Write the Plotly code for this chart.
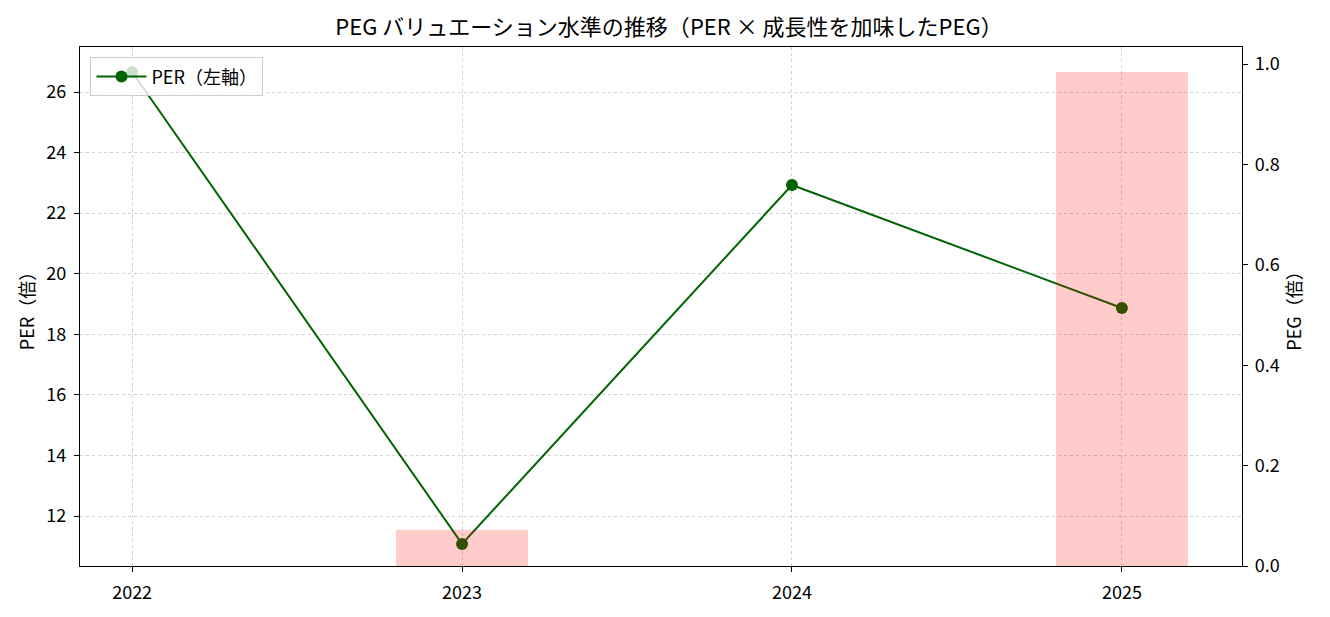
import plotly.graph_objects as go

years = [2022, 2023, 2024, 2025]
per_values = [26.66, 11.08, 22.93, 18.87]
peg_values = [None, 0.072, None, 0.984]
per_ticks = [12, 14, 16, 18, 20, 22, 24, 26]
peg_ticks = [0.0, 0.2, 0.4, 0.6, 0.8, 1.0]

FONT = "Noto Sans CJK JP"

fig = go.Figure()
fig.add_trace(go.Scatter(
    x=years, y=per_values, mode="lines+markers", name="PER（左軸）",
    line=dict(color="#006400", width=2), marker=dict(size=12, color="#006400"),
    yaxis="y"))
fig.add_trace(go.Bar(
    x=years, y=peg_values, name="PEG", width=0.4,
    marker=dict(color="rgba(255,0,0,0.2)", line=dict(width=0)),
    showlegend=False, yaxis="y2"))

fig.update_layout(
    width=1322, height=609,
    margin=dict(l=72, r=88, t=39, b=51),
    paper_bgcolor="white", plot_bgcolor="white",
    font=dict(family=FONT, size=18, color="black"),
    title=dict(text="PEG バリュエーション水準の推移（PER × 成長性を加味したPEG）",
               x=0.5, xanchor="center", y=0.968, yanchor="middle",
               font=dict(size=22, family=FONT)),
    xaxis=dict(range=[2021.842, 2025.364], tickvals=years, ticktext=[str(y) for y in years],
               showgrid=True, gridcolor="#d0d0d0", griddash="dot", gridwidth=1,
               showline=True, linecolor="black", linewidth=1.3, mirror=True,
               ticks="outside", ticklen=5, tickcolor="black", zeroline=False,
               ticklabelstandoff=5, tickfont=dict(size=18, family=FONT)),
    yaxis=dict(range=[10.35, 27.486], tickvals=per_ticks,
               title=dict(text="PER（倍）", standoff=6, font=dict(size=18, family=FONT)),
               showgrid=True, gridcolor="#d0d0d0", griddash="dot", gridwidth=1,
               showline=True, linecolor="black", linewidth=1.3,
               ticks="outside", ticklen=5, tickcolor="black", zeroline=False,
               ticklabelstandoff=4, tickfont=dict(size=18, family=FONT)),
    yaxis2=dict(range=[0, 1.034], tickvals=peg_ticks, tickformat=".1f",
                title=dict(text="PEG（倍）", standoff=6, font=dict(size=18, family=FONT)),
                overlaying="y", side="right", showgrid=False,
                showline=True, linecolor="black", linewidth=1.3,
                ticks="outside", ticklen=5, tickcolor="black", zeroline=False,
                ticklabelstandoff=3, tickfont=dict(size=18, family=FONT)),
    legend=dict(x=0.009, y=0.98, xanchor="left", yanchor="top",
                bgcolor="rgba(255,255,255,0.8)", bordercolor="#cccccc", borderwidth=1,
                itemwidth=50,
                font=dict(size=18, family=FONT)),
    showlegend=True,
)

fig.write_html("out.html")
